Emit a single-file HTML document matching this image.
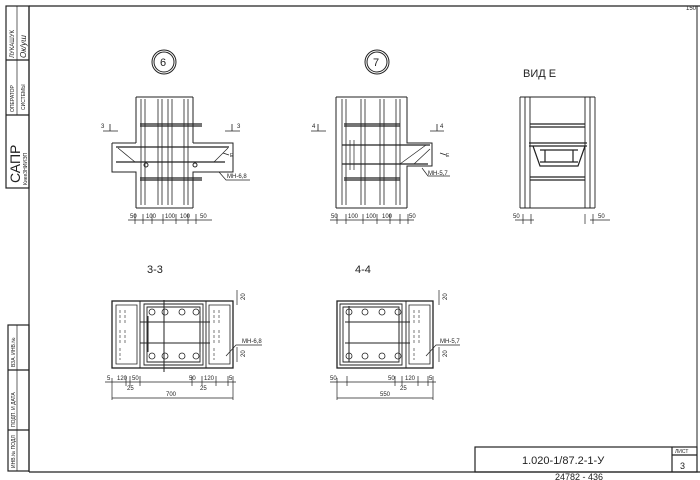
<!DOCTYPE html>
<html><head><meta charset="utf-8"><style>
html,body{margin:0;padding:0;background:#fff;}
svg{display:block;font-family:"Liberation Sans",sans-serif;}
</style></head><body>
<svg width="700" height="480" viewBox="0 0 700 480" xmlns="http://www.w3.org/2000/svg">
<rect width="700" height="480" fill="#fff"/>
<g stroke="#222" fill="none" stroke-width="1.2">
<!-- frame -->
<line x1="29" y1="6" x2="700" y2="6"/>
<line x1="29" y1="6" x2="29" y2="472"/>
<line x1="29" y1="472" x2="700" y2="472"/>
<line x1="697" y1="6" x2="697" y2="472" stroke-width="1"/>
<!-- left strip top -->
<rect x="6" y="6" width="23" height="182"/>
<line x1="6" y1="60" x2="29" y2="60"/><line x1="6" y1="115" x2="29" y2="115"/>
<line x1="17" y1="6" x2="17" y2="115" stroke-width="0.7"/>
<!-- left strip bottom -->
<rect x="8" y="325" width="21" height="146"/>
<line x1="8" y1="370" x2="29" y2="370"/><line x1="8" y1="430" x2="29" y2="430"/>
<line x1="17" y1="325" x2="17" y2="471" stroke-width="0.7"/>
<!-- title block -->
<rect x="475" y="447" width="222" height="25"/>
<line x1="672" y1="447" x2="672" y2="472"/><line x1="672" y1="455" x2="697" y2="455"/>
</g>
<g font-size="6" fill="#222">
<text transform="translate(14,58) rotate(-90)">ЛУКАШУК</text>
<text transform="translate(26,58) rotate(-90)" font-style="italic" font-size="8">Ок/уш</text>
<text transform="translate(14,112) rotate(-90)" font-size="5">ОПЕРАТОР</text>
<text transform="translate(25,110) rotate(-90)" font-size="5">СИСТЕМЫ</text>
<text transform="translate(20,183) rotate(-90)" font-size="14">САПР</text>
<text transform="translate(27,185) rotate(-90)" font-size="5">КиевЗНИИЭП</text>
<text transform="translate(15,367) rotate(-90)" font-size="5">ВЗА. ИНВ.№</text>
<text transform="translate(15,427) rotate(-90)" font-size="5">ПОДП. И ДАТА</text>
<text transform="translate(15,468) rotate(-90)" font-size="5">ИНВ.№ ПОДЛ</text>
<text x="686" y="10" font-size="6">150</text>
<text x="675" y="453" font-size="5">ЛИСТ</text>
<text x="680" y="469" font-size="9">3</text>
<text x="522" y="464" font-size="11">1.020-1/87.2-1-У</text>
<text x="555" y="480" font-size="9">24782 - 436</text>
</g>
<g stroke="#222" fill="none" stroke-width="1">
<!-- Detail 6 -->
<circle cx="164" cy="62" r="12"/><circle cx="164" cy="62" r="10"/>
<path d="M136 97H193M136 97V143M193 97V143M112 143H136M193 143H233V172H193V208M136 208V172H112V143M136 208H193"/>
<path d="M141 99V205M145 99V205M158 99V205M162 99V205M168 99V205M172 99V205M184 99V205M188 99V205" stroke-width="0.8"/>
<path d="M140 124H202M140 126H202M116 147H229M116 162H225M140 178H202M140 180H202" stroke-width="1.3"/>
<path d="M118 148L135 162M228 148L214 162" stroke-width="0.7"/>
<circle cx="146" cy="165" r="2"/><circle cx="195" cy="165" r="2"/>
<path d="M219 172L226 180H250" stroke-width="0.7"/>
<path d="M103 131H118M110 124V131M225 131H240M232 124V131M223 153L229 155" stroke-width="0.8"/>
<path d="M128 220H212M135 214V224M143 214V224M152 214V224M163 214V224M176 214V224M188 214V224M196 214V224" stroke-width="0.7"/>
<!-- Detail 7 -->
<circle cx="377" cy="62" r="12"/><circle cx="377" cy="62" r="10"/>
<path d="M336 97H407M336 97V208M407 97V143H432V166H407V208M336 208H407"/>
<path d="M342 99V205M346 99V205M361 99V205M365 99V205M380 99V205M384 99V205M396 99V205M400 99V205" stroke-width="0.8"/>
<path d="M344 124H400M344 126H400M342 145H430M342 164H428M344 178H400M344 180H400" stroke-width="1.3"/>
<path d="M350 140V170M354 140V170M400 164L426 145M414 164L430 149" stroke-width="0.7"/>
<path d="M422 168L428 176H450" stroke-width="0.7"/>
<path d="M311 131H326M318 124V131M430 131H444M437 124V131M440 153L446 155" stroke-width="0.8"/>
<path d="M330 220H414M337 214V224M346 214V224M363 214V224M377 214V224M390 214V224M400 214V224M408 214V224" stroke-width="0.7"/>
<!-- Vid E -->
<path d="M520 97H595M520 208H595M520 97V208M595 97V208M525 97V208M530 97V208M585 97V208M590 97V208" stroke-width="0.9"/>
<path d="M530 124H585M530 127H585M529 143H587M529 146H587M533 146L540 166H578L585 146M540 150H578M540 162H578M545 150V162M573 150V162M530 177H585M530 180H585" stroke-width="1.2"/>
<path d="M515 220H534M590 220H610M523 214V224M531 214V224M585 214V224M593 214V224" stroke-width="0.7"/>
<!-- 3-3 -->
<rect x="112" y="301" width="121" height="67" stroke-width="1.3"/>
<path d="M140 301V368M206 301V368M144 304H203V365H144Z M147 307H200V362H147Z" stroke-width="0.9"/>
<path d="M116 305H137V364H116ZM209 305H230V364H209Z" stroke-width="0.8"/>
<path d="M140 322H210M140 343H210M148 316V352M200 316V352M164 300V372" stroke-width="1"/>
<g stroke-width="0.8"><circle cx="152" cy="312" r="3"/><circle cx="165" cy="312" r="3"/><circle cx="182" cy="312" r="3"/><circle cx="196" cy="312" r="3"/>
<circle cx="152" cy="356" r="3"/><circle cx="165" cy="356" r="3"/><circle cx="182" cy="356" r="3"/><circle cx="196" cy="356" r="3"/></g>
<path d="M120 310v14M125 310v14M120 330v14M125 330v14M120 348v12M214 310v14M219 310v14M214 330v14M219 330v14M214 348v12" stroke-width="0.6" stroke-dasharray="3 2"/>
<path d="M226 356L236 345H262M237 290V305M237 347V362" stroke-width="0.7"/>
<path d="M105 382H236M112 378V400M126 376V386M130 376V386M140 376V386M192 376V386M202 376V386M216 376V386M228 376V386M233 376V400M112 398H233" stroke-width="0.7"/>
<!-- 4-4 -->
<rect x="337" y="301" width="96" height="67" stroke-width="1.3"/>
<path d="M406 301V368M340 304H402V365H340Z M343 307H399V362H343Z" stroke-width="0.9"/>
<path d="M409 305H430V364H409Z" stroke-width="0.8"/>
<path d="M345 322H410M345 343H410M349 306V362M399 316V352" stroke-width="1"/>
<g stroke-width="0.8"><circle cx="349" cy="312" r="3"/><circle cx="365" cy="312" r="3"/><circle cx="382" cy="312" r="3"/><circle cx="398" cy="312" r="3"/>
<circle cx="349" cy="356" r="3"/><circle cx="365" cy="356" r="3"/><circle cx="382" cy="356" r="3"/><circle cx="398" cy="356" r="3"/></g>
<path d="M414 310v14M419 310v14M414 330v14M419 330v14M414 348v12" stroke-width="0.6" stroke-dasharray="3 2"/>
<path d="M426 356L436 345H460M439 290V305M439 347V362" stroke-width="0.7"/>
<path d="M330 382H436M337 378V400M347 376V386M395 376V386M402 376V386M418 376V386M428 376V386M433 376V400M337 398H433" stroke-width="0.7"/>
</g>
<g fill="#222" font-size="6">
<text x="160" y="66" font-size="11">6</text>
<text x="373" y="66" font-size="11">7</text>
<text x="523" y="77" font-size="11">ВИД  Е</text>
<text x="147" y="273" font-size="11">3-3</text>
<text x="355" y="273" font-size="11">4-4</text>
<text x="101" y="128">3</text><text x="237" y="128">3</text>
<text x="312" y="128">4</text><text x="440" y="128">4</text>
<text x="230" y="157" font-size="5">Е</text><text x="446" y="157" font-size="5">Е</text>
<text x="227" y="178">МН-6,8</text><text x="428" y="175">МН-5,7</text>
<text x="130" y="218">50</text><text x="146" y="218">100</text><text x="165" y="218">100</text><text x="180" y="218">100</text><text x="200" y="218">50</text>
<text x="331" y="218">50</text><text x="348" y="218">100</text><text x="366" y="218">100</text><text x="382" y="218">100</text><text x="409" y="218">50</text>
<text x="513" y="218">50</text><text x="598" y="218">50</text>
<text x="107" y="380">5</text><text x="117" y="380">120</text><text x="132" y="380">50</text><text x="189" y="380">50</text><text x="204" y="380">120</text><text x="229" y="380">5</text>
<text x="127" y="390">25</text><text x="200" y="390">25</text><text x="166" y="396">700</text>
<text x="330" y="380">50</text><text x="388" y="380">50</text><text x="405" y="380">120</text><text x="429" y="380">5</text>
<text x="400" y="390">25</text><text x="380" y="396">550</text>
<text x="242" y="343">МН-6,8</text><text x="440" y="343">МН-5,7</text>
<text transform="translate(245,300) rotate(-90)">20</text><text transform="translate(245,357) rotate(-90)">20</text>
<text transform="translate(447,300) rotate(-90)">20</text><text transform="translate(447,357) rotate(-90)">20</text>
</g>
</svg>
</body></html>
